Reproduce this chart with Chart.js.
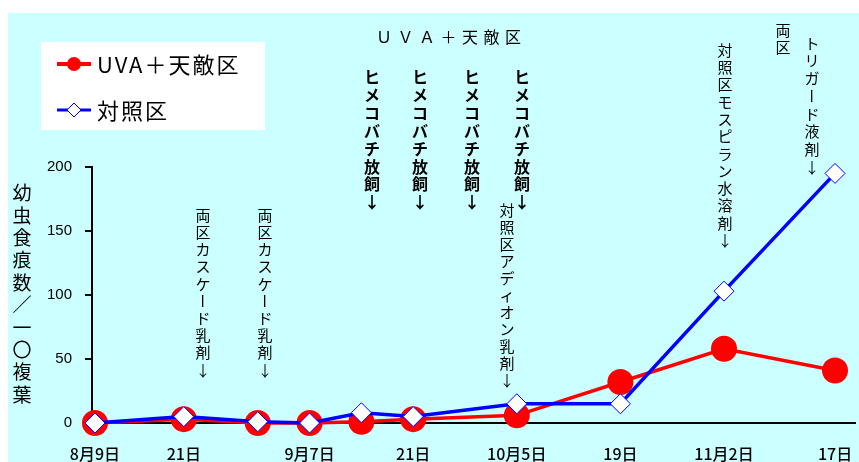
<!DOCTYPE html>
<html><head><meta charset="utf-8">
<script src="https://cdn.jsdelivr.net/npm/chart.js@4/dist/chart.umd.min.js"></script>
<style>html,body{margin:0;padding:0;background:#fff}#wrap{width:859px;height:462px}</style>
</head><body>
<div id="wrap"><canvas id="chart" width="859" height="462"></canvas></div>
<script>
/* データ */
const dayNums=[0,12,22,29,36,43,57,71,85,100];          // 8月9日からの日数
const uvaValues=[0,3,0,0,1,3,6,32,58,41];              // UVA＋天敵区
const controlValues=[0,5,1,0,8,5,15,15,103,195];       // 対照区
const tickDays=[0,12,29,43,57,71,85,100];
const tickLabels=['8月9日','21日','9月7日','21日','10月5日','19日','11月2日','17日'];
const yTicks=[0,50,100,150,200];
const seriesNames=['UVA＋天敵区','対照区'];

const JP='"Noto Sans CJK JP","Noto Sans",sans-serif';
const pts=v=>dayNums.map((d,i)=>({x:d,y:v[i]}));

/* 縦書き */
function vtext(ctx,str,x,y0,step,font){
  ctx.save();ctx.font=font;ctx.fillStyle='#000';ctx.textAlign='center';ctx.textBaseline='middle';
  [...str].forEach((ch,i)=>{const y=y0+i*step;
    if(ch==='ー'){ctx.save();ctx.translate(x,y);ctx.rotate(Math.PI/2);ctx.fillText(ch,0,0);ctx.restore();}
    else ctx.fillText(ch,x,y);});
  ctx.restore();
}

const bgPlugin={id:'bg',beforeDraw(c){const ctx=c.ctx;ctx.save();
  ctx.fillStyle='#fff';ctx.fillRect(0,0,c.width,c.height);
  ctx.fillStyle='#ccffff';ctx.fillRect(8,13,851,449);ctx.restore();}};

const notePlugin={id:'notes',afterDraw(c){const ctx=c.ctx;
  const n='15px '+JP, b='bold 16px '+JP;
  // y軸タイトル
  vtext(ctx,'幼虫食痕数／一〇複葉',22,193,22.4,'19px '+JP);
  // 上部
  ctx.save();ctx.font='16px '+JP;ctx.fillStyle='#000';ctx.textAlign='center';ctx.textBaseline='middle';
  [...'ＵＶＡ＋天敵区'].forEach((ch,i)=>ctx.fillText(ch,384+i*21.5,37));ctx.restore();
  [372,420,472,522].forEach(x=>vtext(ctx,'ヒメコバチ放飼↓',x,77,17.9,b));
  [203,265].forEach(x=>vtext(ctx,'両区カスケード乳剤↓',x,215,17.2,n));
  vtext(ctx,'対照区アディオン乳剤↓',507,210,17,n);
  vtext(ctx,'対照区モスピラン水溶剤↓',725,50,17.3,n);
  vtext(ctx,'両区',783,30,17,n);
  vtext(ctx,'トリガード液剤↓',812,43,17.7,n);
  // 凡例
  ctx.save();ctx.fillStyle='#fff';ctx.fillRect(41,42,224,88);
  ctx.lineWidth=4;ctx.strokeStyle='#ff0000';ctx.beginPath();ctx.moveTo(57,64);ctx.lineTo(91,64);ctx.stroke();
  ctx.fillStyle='#ff0000';ctx.beginPath();ctx.arc(74,64,7,0,Math.PI*2);ctx.fill();
  ctx.lineWidth=3;ctx.strokeStyle='#0000ff';ctx.beginPath();ctx.moveTo(57,110);ctx.lineTo(91,110);ctx.stroke();
  ctx.fillStyle='#fff';ctx.lineWidth=1;ctx.beginPath();ctx.moveTo(74,103);ctx.lineTo(81,110);ctx.lineTo(74,117);ctx.lineTo(67,110);ctx.closePath();ctx.fill();ctx.stroke();
  ctx.fillStyle='#000';ctx.font='22px '+JP;ctx.textBaseline='middle';ctx.textAlign='left';
  ctx.letterSpacing='2px';
  ctx.fillText(seriesNames[0],97,65);ctx.fillText(seriesNames[1],97,111);
  ctx.restore();
}};

new Chart(document.getElementById('chart'),{
  type:'line',
  data:{datasets:[
    {label:seriesNames[1],data:pts(controlValues),borderColor:'#0000ff',borderWidth:3.5,
     pointStyle:'rectRot',pointRadius:10,pointBackgroundColor:'#fff',pointBorderColor:'#0000ff',pointBorderWidth:1,order:0,clip:false,tension:0},
    {label:seriesNames[0],data:pts(uvaValues),borderColor:'#ff0000',borderWidth:3.5,
     pointStyle:'circle',pointRadius:13,pointBackgroundColor:'#ff0000',pointBorderColor:'#ff0000',pointBorderWidth:0,order:1,clip:false,tension:0}
  ]},
  options:{responsive:false,animation:false,
    layout:{autoPadding:false,padding:{left:0,top:167,right:4,bottom:0}},
    plugins:{legend:{display:false},tooltip:{enabled:false}},
    scales:{
      x:{type:'linear',min:-0.4,max:102.7,
        afterFit:s=>{s.height=39;s.paddingLeft=0;s.paddingRight=0;},
        afterBuildTicks:s=>{s.ticks=tickDays.map(v=>({value:v}));},
        ticks:{autoSkip:false,maxRotation:0,padding:21,color:'#000',font:{family:JP,size:16,weight:'500'},
          callback:(v,i)=>tickLabels[i]},
        grid:{display:false,drawTicks:false},border:{display:true,color:'#000',width:2}},
      y:{min:0,max:200,
        afterFit:s=>{s.width=92;},
        afterBuildTicks:s=>{s.ticks=yTicks.map(v=>({value:v}));},
        ticks:{padding:13,color:'#000',font:{family:'"Liberation Sans",Arial,sans-serif',size:15}},
        grid:{display:true,drawOnChartArea:false,drawTicks:true,tickLength:7,color:'#000',lineWidth:2},
        border:{display:true,color:'#000',width:2}}
    }},
  plugins:[bgPlugin,notePlugin]
});
</script>
</body></html>
